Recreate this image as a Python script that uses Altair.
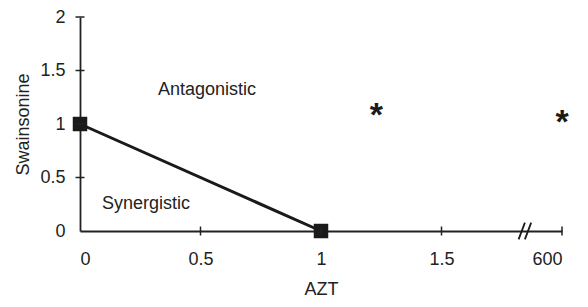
import altair as alt
import pandas as pd

# ---- data ----
x_ticks = [0, 0.5, 1, 1.5, 2]
x_tick_labels = ["0", "0.5", "1", "1.5", "600"]
y_ticks = [0, 0.5, 1, 1.5, 2]

isobole_azt = [0, 1]
isobole_swainsonine = [1, 0]

star_azt = [1.23, 2.0]
star_swainsonine = [1.13, 1.065]

region_names = ["Antagonistic", "Synergistic"]
region_azt = [0.527, 0.274]
region_swainsonine = [1.315, 0.255]

break_azt = [1.846]
break_swainsonine = [0]

FONT = "Liberation Sans"

label_expr = " : ".join(
    [f"datum.value == {v} ? '{l}'" for v, l in zip(x_ticks, x_tick_labels)]
) + " : datum.label"

xs = alt.Scale(domain=[0, 2], nice=False, zero=False)
ys = alt.Scale(domain=[0, 2], nice=False, zero=False)

x_axis = alt.Axis(values=x_ticks, labelExpr=label_expr, ticks=False, tickSize=0,
                  grid=False, labelPadding=19, title="AZT", titleFontWeight="normal",
                  titleFontSize=18, titleFont=FONT, titleColor="#222", titleY=49,
                  titleBaseline="top", labelFont=FONT, labelFontSize=18, labelColor="#222",
                  domainColor="#222", domainWidth=1.8)
y_axis = alt.Axis(values=y_ticks, format="~g", ticks=False, tickSize=0, grid=False,
                  labelPadding=15, title="Swainsonine", titleFontWeight="normal",
                  titleFontSize=18, titleFont=FONT, titleColor="#222", titleX=-57,
                  titleBaseline="middle", labelFont=FONT, labelFontSize=18, labelColor="#222",
                  domainColor="#222", domainWidth=1.8)


def X():
    return alt.X("azt:Q", scale=xs, axis=x_axis)


def Y():
    return alt.Y("swa:Q", scale=ys, axis=y_axis)


iso = pd.DataFrame({"azt": isobole_azt, "swa": isobole_swainsonine})
line = alt.Chart(iso).mark_line(color="#1a1a1a", strokeWidth=3).encode(x=X(), y=Y())
squares = alt.Chart(iso).mark_point(shape="square", filled=True, size=210,
                                     color="#1a1a1a", opacity=1).encode(x=X(), y=Y())

ytk = pd.DataFrame({"azt": [0] * (len(y_ticks) - 1), "swa": y_ticks[1:]})
xtk = pd.DataFrame({"azt": x_ticks[1:], "swa": [0] * (len(x_ticks) - 1)})
yticks = alt.Chart(ytk).mark_tick(orient="horizontal", size=9, thickness=1.5,
                                  color="#222", opacity=1).encode(x=X(), y=Y())
xticks = alt.Chart(xtk).mark_tick(orient="vertical", size=9, thickness=1.5,
                                  color="#222", opacity=1).encode(x=X(), y=Y())

stars = alt.Chart(pd.DataFrame({"azt": star_azt, "swa": star_swainsonine})).mark_text(
    text="*", font=FONT, fontSize=34, fontWeight="bold", baseline="alphabetic",
    dy=16, color="#1a1a1a").encode(x=X(), y=Y())

regions = alt.Chart(pd.DataFrame({"name": region_names, "azt": region_azt,
                                  "swa": region_swainsonine})).mark_text(
    font=FONT, fontSize=18, baseline="middle", align="center", color="#222").encode(
    x=X(), y=Y(), text="name:N")

brk = alt.Chart(pd.DataFrame({"azt": break_azt, "swa": break_swainsonine})).mark_point(
    shape="M-0.75,1L0,-1M0,1L0.75,-1", size=280, filled=False, strokeWidth=1.8,
    color="#1a1a1a", opacity=1).encode(x=X(), y=Y())

chart = alt.layer(line, squares, yticks, xticks, stars, regions, brk).properties(
    width=482, height=214,
    autosize=alt.AutoSizeParams(type="none"),
    padding={"left": 72, "top": 9, "right": 18, "bottom": 68},
).configure(background="white", view=alt.ViewConfig(stroke=None))

chart.save("out.html", embed_options={"renderer": "svg", "actions": False})
